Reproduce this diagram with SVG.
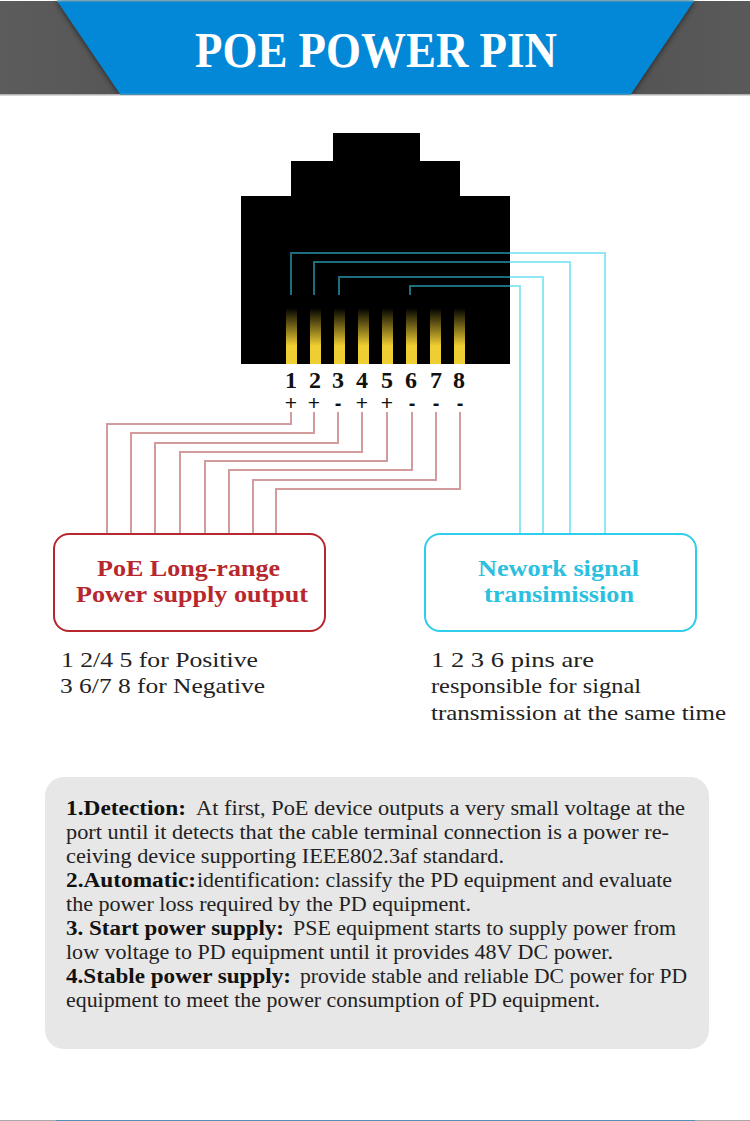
<svg xmlns="http://www.w3.org/2000/svg" width="750" height="1121" viewBox="0 0 750 1121">
<style>
text{font-family:"Liberation Serif","Times New Roman",serif;fill:#222}
.b{font-weight:700;fill:#111}
.body{font-size:20px}
.cap{font-size:22px}
.boxt{font-size:24px;font-weight:700}
.num{font-size:24px;font-weight:700;fill:#111;text-anchor:middle}
.sign{font-family:"Liberation Sans",Arial,sans-serif;font-size:21px;fill:#111;text-anchor:middle}
.minus{font-size:20px;font-weight:700}
.red,.dark,.cyan{fill:none;stroke-width:2}
.red{stroke:#d39c9c}
.dark{stroke:#1c6d7e}
.cyan{stroke:#90e8f5}
.pin{fill:url(#pinGrad)}
</style>
<defs>
<linearGradient id="pinGrad" x1="0" y1="0" x2="0" y2="1">
<stop offset="0" stop-color="#000"/>
<stop offset="0.68" stop-color="#efce33"/>
<stop offset="1" stop-color="#efce33"/>
</linearGradient>
<linearGradient id="greyL" x1="0" y1="0" x2="1" y2="0">
<stop offset="0" stop-color="#5c5c5c"/>
<stop offset="1" stop-color="#4b4b4b"/>
</linearGradient>
<linearGradient id="greyR" x1="0" y1="0" x2="1" y2="0">
<stop offset="0" stop-color="#474747"/>
<stop offset="1" stop-color="#5a5a5a"/>
</linearGradient>
<filter id="sh" x="-5%" y="-5%" width="110%" height="110%">
<feGaussianBlur stdDeviation="3"/>
</filter>
</defs>
<rect width="750" height="1121" fill="#fff"/>
<g id="header">
<rect x="0" y="1" width="375" height="93" fill="url(#greyL)"/>
<rect x="375" y="1" width="375" height="93" fill="url(#greyR)"/>
<polygon points="57,1 694,1 631,94 120,94" fill="#111" opacity="0.7" filter="url(#sh)"/>
<rect x="0" y="94" width="750" height="27" fill="#fff"/>
<rect x="0" y="94" width="750" height="1.5" fill="#b0b0b0"/>
<polygon points="57,1 694,1 631,94 120,94" fill="#0288d6"/>
<rect x="57" y="0.5" width="637" height="1.5" fill="#3d93bd"/>
<rect x="120" y="93.5" width="511" height="1.5" fill="#3d93bd"/>
<text x="195" y="67" class="b" font-size="50" style="fill:#fff" textLength="362" lengthAdjust="spacingAndGlyphs">POE POWER PIN</text>
</g>
<g id="rj45-connector">
<path d="M333 133H420V161H460V196H510V364H241V196H291V161H333Z" fill="#000"/>
<rect class="pin" x="286" y="308" width="11" height="56"/>
<rect class="pin" x="310" y="308" width="11" height="56"/>
<rect class="pin" x="334" y="308" width="11" height="56"/>
<rect class="pin" x="358" y="308" width="11" height="56"/>
<rect class="pin" x="382" y="308" width="11" height="56"/>
<rect class="pin" x="406" y="308" width="11" height="56"/>
<rect class="pin" x="430" y="308" width="11" height="56"/>
<rect class="pin" x="454" y="308" width="11" height="56"/>
</g>
<g id="connectors">
<path class="dark" d="M291 295V253H510"/><path class="cyan" d="M510 253H605V533"/>
<path class="dark" d="M314 295V262H510"/><path class="cyan" d="M510 262H570V533"/>
<path class="dark" d="M339 295V277H510"/><path class="cyan" d="M510 277H543V533"/>
<path class="dark" d="M410 295V286H510"/><path class="cyan" d="M510 286H520V533"/>
<path class="red" d="M291 412V424H107V533"/>
<path class="red" d="M314 412V433H131V533"/>
<path class="red" d="M338 412V443H155V533"/>
<path class="red" d="M362 412V452H180V533"/>
<path class="red" d="M387 412V461H205V533"/>
<path class="red" d="M412 412V470H229V533"/>
<path class="red" d="M436 412V480H253V533"/>
<path class="red" d="M460 412V489H276V533"/>
</g>
<g id="pin-labels">
<text class="num" x="291" y="388">1</text>
<text class="num" x="315" y="388">2</text>
<text class="num" x="338" y="388">3</text>
<text class="num" x="362" y="388">4</text>
<text class="num" x="387" y="388">5</text>
<text class="num" x="411" y="388">6</text>
<text class="num" x="436" y="388">7</text>
<text class="num" x="459" y="388">8</text>
<text class="sign" x="291" y="410">+</text>
<text class="sign" x="314" y="410">+</text>
<text class="sign minus" x="338" y="410">-</text>
<text class="sign" x="362" y="410">+</text>
<text class="sign" x="387" y="410">+</text>
<text class="sign minus" x="412" y="410">-</text>
<text class="sign minus" x="436" y="410">-</text>
<text class="sign minus" x="460" y="410">-</text>
</g>
<g id="poe-box">
<rect x="54" y="534" width="271" height="97" rx="15" fill="#fff" stroke="#b7282e" stroke-width="2"/>
<text class="boxt" style="fill:#b7282e" x="97" y="576" textLength="183" lengthAdjust="spacingAndGlyphs">PoE Long-range</text>
<text class="boxt" style="fill:#b7282e" x="76" y="602" textLength="232" lengthAdjust="spacingAndGlyphs">Power supply output</text>
</g>
<g id="signal-box">
<rect x="425" y="534" width="271" height="97" rx="15" fill="#fff" stroke="#2dcdeb" stroke-width="2"/>
<text class="boxt" style="fill:#2bbfe0" x="478" y="576" textLength="161" lengthAdjust="spacingAndGlyphs">Nework signal</text>
<text class="boxt" style="fill:#2bbfe0" x="484" y="602" textLength="150" lengthAdjust="spacingAndGlyphs">transimission</text>
</g>
<g id="poe-note">
<text class="cap" x="61" y="667" textLength="197" lengthAdjust="spacingAndGlyphs">1 2/4 5 for Positive</text>
<text class="cap" x="60" y="693" textLength="205" lengthAdjust="spacingAndGlyphs">3 6/7 8 for Negative</text>
</g>
<g id="signal-note">
<text class="cap" x="431" y="667" textLength="163" lengthAdjust="spacingAndGlyphs">1 2 3 6 pins are</text>
<text class="cap" x="431" y="693" textLength="210" lengthAdjust="spacingAndGlyphs">responsible for signal</text>
<text class="cap" x="431" y="720" textLength="295" lengthAdjust="spacingAndGlyphs">transmission at the same time</text>
</g>
<g id="description">
<rect x="45" y="777" width="664" height="272" rx="19" fill="#e7e7e7"/>
<text class="body b" x="66" y="815" textLength="120" lengthAdjust="spacingAndGlyphs">1.Detection:</text>
<text class="body" x="196" y="815" textLength="489" lengthAdjust="spacingAndGlyphs">At first, PoE device outputs a very small voltage at the</text>
<text class="body" x="66" y="839" textLength="603" lengthAdjust="spacingAndGlyphs">port until it detects that the cable terminal connection is a power re-</text>
<text class="body" x="66" y="863" textLength="438" lengthAdjust="spacingAndGlyphs">ceiving device supporting IEEE802.3af standard.</text>
<text class="body b" x="66" y="887" textLength="130" lengthAdjust="spacingAndGlyphs">2.Automatic:</text>
<text class="body" x="197" y="887" textLength="475" lengthAdjust="spacingAndGlyphs">identification: classify the PD equipment and evaluate</text>
<text class="body" x="66" y="911" textLength="405" lengthAdjust="spacingAndGlyphs">the power loss required by the PD equipment.</text>
<text class="body b" x="66" y="935" textLength="218" lengthAdjust="spacingAndGlyphs">3. Start power supply:</text>
<text class="body" x="293" y="935" textLength="383" lengthAdjust="spacingAndGlyphs">PSE equipment starts to supply power from</text>
<text class="body" x="66" y="959" textLength="547" lengthAdjust="spacingAndGlyphs">low voltage to PD equipment until it provides 48V DC power.</text>
<text class="body b" x="66" y="983" textLength="225" lengthAdjust="spacingAndGlyphs">4.Stable power supply:</text>
<text class="body" x="300" y="983" textLength="387" lengthAdjust="spacingAndGlyphs">provide stable and reliable DC power for PD</text>
<text class="body" x="66" y="1007" textLength="534" lengthAdjust="spacingAndGlyphs">equipment to meet the power consumption of PD equipment.</text>
</g>
<g id="footer-rule">
<rect x="0" y="1120" width="750" height="1" fill="#a8a8a8"/>
<rect x="56" y="1120" width="639" height="1" fill="#4f93b8"/>
</g>
</svg>
